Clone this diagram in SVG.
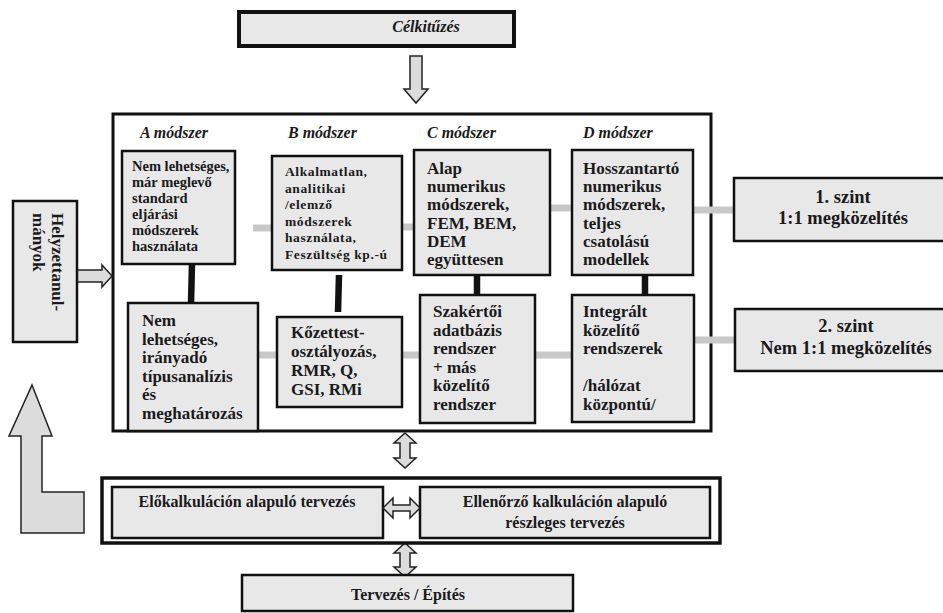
<svg xmlns="http://www.w3.org/2000/svg" width="943" height="613" viewBox="0 0 943 613">
<defs>
<style>
.box{fill:#e8e8e8;stroke:#111;stroke-width:2.5}
.arr{fill:#dcdcdc;stroke:#222;stroke-width:1.5;stroke-linejoin:miter}
.t{font-family:"Liberation Serif","Times New Roman",serif;font-weight:bold;fill:#1a1a1a}
.s14{font-size:14.5px}
.s13{font-size:13.5px;letter-spacing:0.6px}
.s16{font-size:16px}
.s17{font-size:17px}
.s18{font-size:18.5px}
.it{font-style:italic}
.mid{text-anchor:middle}
.gbar{stroke:#c8c8c8;stroke-width:7}
.kbar{stroke:#111;stroke-width:6.5}
</style>
</defs>
<rect width="943" height="613" fill="#fff"/>

<g id="main-frame">
<rect x="113" y="114" width="598" height="317" fill="#fff" stroke="#111" stroke-width="3"/>
</g>

<g id="connectors">
<line class="gbar" x1="253" y1="228" x2="272" y2="228"/>
<line class="gbar" x1="402" y1="227" x2="414" y2="227"/>
<line class="gbar" x1="550" y1="208" x2="572" y2="208"/>
<line class="gbar" x1="693" y1="210" x2="734" y2="210"/>
<line class="gbar" x1="258" y1="355" x2="277" y2="355"/>
<line class="gbar" x1="402" y1="355" x2="420" y2="355"/>
<line class="gbar" x1="535" y1="355" x2="572" y2="355"/>
<line class="gbar" x1="694" y1="340" x2="735" y2="340"/>
<line class="kbar" x1="192" y1="264" x2="191" y2="303"/>
<line class="kbar" x1="339" y1="275" x2="338" y2="312"/>
<line class="kbar" x1="477" y1="275" x2="477" y2="295"/>
<line class="kbar" x1="645" y1="275" x2="645" y2="295"/>
<polygon class="arr" points="410,56 422,56 422,89 428,89 416,103 404,89 410,89"/>
<polygon class="arr" points="77,270 102,270 102,265 112,276 102,287 102,282 77,282"/>
<polygon class="arr" points="32,385 52,436 42,436 42,492 84,492 84,533 21,533 21,436 9,436" stroke-width="2"/>
<polygon class="arr" points="405,433 416,443 410,443 410,458 416,458 405,468 394,458 400,458 400,443 394,443"/>
<polygon class="arr" points="405,543 416,553 410,553 410,567 416,567 405,577 394,567 400,567 400,553 394,553"/>
</g>

<g id="celkituzes">
<rect x="239" y="12" width="275" height="34" fill="#e8e8e8" stroke="#111" stroke-width="4"/>
<text class="t s16 it mid" x="426" y="32">Célkitűzés</text>
</g>

<g id="headers">
<text class="t s16 it" x="140" y="138">A módszer</text>
<text class="t s16 it" x="288" y="138">B módszer</text>
<text class="t s16 it" x="427" y="138">C módszer</text>
<text class="t s16 it" x="583" y="138">D módszer</text>
</g>

<g id="box-a1">
<rect class="box" x="122" y="151" width="113" height="113" stroke-width="3"/>
<text class="t s14" x="132" y="171">Nem lehetséges,</text>
<text class="t s14" x="132" y="187">már meglevő</text>
<text class="t s14" x="132" y="203">standard</text>
<text class="t s14" x="132" y="219"> eljárási</text>
<text class="t s14" x="132" y="235">módszerek</text>
<text class="t s14" x="132" y="251">használata</text>
</g>

<g id="box-b1">
<rect class="box" x="272" y="156" width="130" height="114" stroke-width="2"/>
<text class="t s13" x="285" y="176">Alkalmatlan,</text>
<text class="t s13" x="285" y="192.5">analitikai</text>
<text class="t s13" x="285" y="209">/elemző</text>
<text class="t s13" x="285" y="225.5">módszerek</text>
<text class="t s13" x="285" y="242">használata,</text>
<text class="t s13" x="285" y="258.5">Feszültség kp.-ú</text>
</g>

<g id="box-c1">
<rect class="box" x="414" y="150" width="136" height="125" stroke-width="2"/>
<text class="t s17" x="427" y="174">Alap</text>
<text class="t s17" x="427" y="192.2">numerikus</text>
<text class="t s17" x="427" y="210.4">módszerek,</text>
<text class="t s17" x="427" y="228.6">FEM, BEM,</text>
<text class="t s17" x="427" y="246.8">DEM</text>
<text class="t s17" x="427" y="265">együttesen</text>
</g>

<g id="box-d1">
<rect class="box" x="572" y="150" width="121" height="125" stroke-width="2"/>
<text class="t s17" x="583" y="174">Hosszantartó</text>
<text class="t s17" x="583" y="192.2">numerikus</text>
<text class="t s17" x="583" y="210.4">módszerek,</text>
<text class="t s17" x="583" y="228.6">teljes</text>
<text class="t s17" x="583" y="246.8">csatolású</text>
<text class="t s17" x="583" y="265">modellek</text>
</g>

<g id="box-a2">
<rect class="box" x="128" y="303" width="130" height="128" stroke-width="2.5"/>
<text class="t s17" x="142" y="326">Nem</text>
<text class="t s17" x="142" y="344.5">lehetséges,</text>
<text class="t s17" x="142" y="363">irányadó</text>
<text class="t s17" x="142" y="381.5">típusanalízis</text>
<text class="t s17" x="142" y="400">és</text>
<text class="t s17" x="142" y="418.5">meghatározás</text>
</g>

<g id="box-b2">
<rect class="box" x="277" y="317" width="125" height="90" stroke-width="2"/>
<text class="t s17" x="291" y="338">Kőzettest-</text>
<text class="t s17" x="291" y="357">osztályozás,</text>
<text class="t s17" x="291" y="376">RMR, Q,</text>
<text class="t s17" x="291" y="395">GSI, RMi</text>
</g>

<g id="box-c2">
<rect class="box" x="420" y="295" width="115" height="128" stroke-width="2"/>
<text class="t s17" x="433" y="317">Szakértői</text>
<text class="t s17" x="433" y="335.5">adatbázis</text>
<text class="t s17" x="433" y="354">rendszer</text>
<text class="t s17" x="433" y="372.5">+ más</text>
<text class="t s17" x="433" y="391">közelítő</text>
<text class="t s17" x="433" y="409.5">rendszer</text>
</g>

<g id="box-d2">
<rect class="box" x="572" y="295" width="122" height="127" stroke-width="2"/>
<text class="t s17" x="583" y="317">Integrált</text>
<text class="t s17" x="583" y="335.5">közelítő</text>
<text class="t s17" x="583" y="354">rendszerek</text>
<text class="t s17" x="583" y="391">/hálózat</text>
<text class="t s17" x="583" y="409.5">központú/</text>
</g>

<g id="szint1">
<rect class="box" x="734" y="178" width="220" height="63" stroke-width="2.5"/>
<text class="t s18 mid" x="843" y="203">1. szint</text>
<text class="t s18 mid" x="843" y="224">1:1 megközelítés</text>
</g>

<g id="szint2">
<rect class="box" x="735" y="309" width="220" height="62" stroke-width="2.5"/>
<text class="t s18 mid" x="846" y="332">2. szint</text>
<text class="t s18 mid" x="846" y="354">Nem 1:1 megközelítés</text>
</g>

<g id="helyzet">
<rect class="box" x="13" y="201" width="64" height="141" stroke-width="2.5"/>
<text class="t s17" transform="translate(52,213) rotate(90)">Helyzettanul-</text>
<text class="t s17" transform="translate(33,213) rotate(90)">mányok</text>
</g>

<g id="tervezes-frame">
<rect x="102" y="478" width="618" height="65" fill="#fff" stroke="#111" stroke-width="3.5"/>
</g>

<g id="elokalk">
<rect class="box" x="112" y="487" width="271" height="51" stroke-width="2"/>
<text class="t s16 mid" x="247" y="507">Előkalkuláción alapuló tervezés</text>
</g>

<g id="ellenorzo">
<rect class="box" x="420" y="487" width="290" height="51" stroke-width="2"/>
<text class="t s16 mid" x="565" y="507">Ellenőrző kalkuláción alapuló</text>
<text class="t s16 mid" x="565" y="528">részleges tervezés</text>
</g>

<g id="epites">
<rect class="box" x="242" y="575" width="331" height="36" stroke-width="2.5"/>
<text class="t s16 mid" x="408" y="600">Tervezés / Építés</text>
</g>

<g id="connectors-top">
<polygon class="arr" points="383,508 393,498 393,505 410,505 410,498 420,508 410,518 410,511 393,511 393,518"/>
</g>
</svg>
